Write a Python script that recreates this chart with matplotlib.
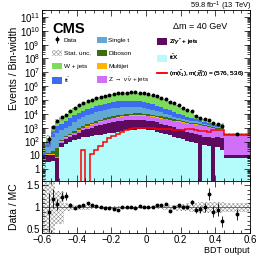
##### BDT output distribution, stacked backgrounds with data/MC ratio
import numpy as np
import matplotlib
matplotlib.use('Agg')
import matplotlib.pyplot as plt
from matplotlib.patches import Patch
from matplotlib.lines import Line2D
from matplotlib.ticker import FixedLocator, LogLocator, MultipleLocator, FuncFormatter, NullFormatter

##### binning: 0.025 wide bins from -0.6 to 0.45, then one wide bin to 0.6
edges = np.append(np.linspace(-0.6, 0.45, 43), 0.6)

##### yields in events / bin width
ttx = [3.2, 3.2, 4, 0, 40, 71, 100, 126, 158, 200, 224, 251, 282, 316, 355, 398, 447, 501, 562, 631,
       676, 724, 759, 759, 708, 631, 525, 447, 355, 282, 224, 178, 141, 112, 100, 79, 0, 56, 50, 0, 40, 25, 6.9]
zll = [0.8, 6.8, 6, 6.3, 40, 87, 124, 190, 289, 431, 570, 749, 977, 1270, 1550, 1840, 2070, 2320, 2600, 2680,
       2870, 2990, 2960, 2790, 2450, 2190, 1870, 1550, 1310, 1040, 823, 654, 520, 413, 317, 276, 282, 168, 150, 178, 160, 153, 3.8]
znn = [0, 1.2, 1.2, 0.8, 10, 20, 39, 82, 156, 260, 408, 585, 830, 1110, 1410, 1740, 2170, 2550, 2860, 3300,
       3700, 3870, 3870, 3700, 3600, 3210, 2850, 2580, 2320, 2070, 1840, 1680, 1580, 1470, 1360, 1310, 1230, 1040, 847, 713, 559, 546, 284]
qcd = [0, 1.4, 1.4, 0.8, 11, 22, 32, 49, 73, 109, 147, 193, 255, 328, 404, 486, 571, 656, 735, 806,
       884, 925, 925, 884, 825, 735, 640, 558, 486, 414, 352, 306, 273, 244, 217, 202, 184, 154, 128, 109, 92, 89, 14]
vv = [0.5, 3.2, 7.4, 24, 26, 51, 85, 142, 215, 318, 429, 566, 676, 870, 1070, 1290, 1510, 1740, 1950, 2140,
      2340, 2450, 2450, 2340, 2190, 1950, 1700, 1330, 1030, 875, 745, 570, 439, 391, 349, 276, 252, 209, 174, 148, 126, 99, 15]
singlet = [1.8, 24, 180, 366, 505, 640, 1030, 1920, 3090, 4310, 6170, 7660, 9570, 11200, 13000, 15600, 18400, 20400, 21500, 22100,
           21200, 20700, 18500, 16400, 14200, 11200, 8260, 6130, 4510, 3270, 2330, 1620, 1220, 918, 818, 680, 562, 373, 273, 232, 171, 160, 23]
ttbar = [11.5, 72, 362, 861, 1360, 1930, 3600, 5430, 7240, 10200, 13400, 18200, 22900, 27500, 32300, 38900, 45700, 51200, 54900, 57500,
         57500, 55500, 49900, 43900, 36300, 30200, 24000, 17600, 14000, 9840, 6870, 4990, 3770, 2760, 1850, 1160, 799, 635, 467, 358, 297, 246, 25]
wjets = [32, 66, 438, 1690, 3130, 4260, 10100, 17200, 27700, 37900, 51100, 71800, 90400, 116000, 145000, 169000, 205000, 237000, 238000, 258000,
         266000, 276000, 252000, 245000, 222000, 179000, 151000, 111000, 88200, 65400, 44400, 32700, 19000, 13600, 8790, 3960, 2310, 1350, 729, 553, 550, 587, 26]
data = [0, 158, 1200, 3160, 6360, 8920, 15900, 25100, 40100, 56400, 79000, 105000, 131000, 158500, 191000, 224500, 264000, 297000, 323600, 346700,
        354800, 355800, 341100, 316200, 284700, 229100, 200100, 148300, 120100, 76500, 58100, 44800, 27200, 20150, 15460, 7550, 5400, 3980, 3660, 2060, 1900, 1300, 334]
signal = [0, 0, 0, 0, 0, 0, 0, 0, 0, 25, 0, 12, 25, 50, 100, 175, 250, 350, 500, 630,
          760, 890, 950, 950, 930, 890, 850, 830, 800, 760, 740, 720, 720, 760, 780, 630, 620, 600, 525, 690, 690, 690, 300]
# relative MC statistical uncertainty per bin
mc_unc = [1.0, 0.8, 0.7, 0.38, 0.38, 0.09, 0.07, 0.06, 0.055, 0.05, 0.05, 0.045, 0.045, 0.04, 0.04, 0.04, 0.04, 0.04, 0.04, 0.04,
          0.04, 0.04, 0.04, 0.04, 0.04, 0.04, 0.045, 0.045, 0.05, 0.05, 0.06, 0.07, 0.08, 0.09, 0.1, 0.11, 0.12, 0.12, 0.13, 0.13, 0.13, 0.13, 0.1]

##### stack order bottom -> top
layers = [(ttx, '#b4fcfc', r'$\mathrm{t\bar{t}X}$'),
          (zll, '#5e0a5e', r'Z/$\gamma^{*}$ + jets'),
          (znn, '#d070f8', r'Z $\rightarrow$ $\nu\bar{\nu}$ + jets'),
          (qcd, '#ffb400', 'Multijet'),
          (vv, '#3d6e0e', 'Diboson'),
          (singlet, '#62a8d6', 'Single t'),
          (ttbar, '#3c6cf0', r'$\mathrm{t\bar{t}}$'),
          (wjets, '#7cdc5c', 'W + jets')]

plt.rcParams['font.family'] = ['Liberation Sans', 'DejaVu Sans']
plt.rcParams['mathtext.fontset'] = 'custom'
plt.rcParams['mathtext.rm'] = 'Liberation Sans'
plt.rcParams['mathtext.it'] = 'Liberation Sans:italic'
plt.rcParams['mathtext.bf'] = 'Liberation Sans:bold'
plt.rcParams['hatch.linewidth'] = 0.35
plt.rcParams['axes.linewidth'] = 0.6

unc_hatch = 'xxxxxxxx'
unc_col = '#8a8a8a'

width = np.diff(edges)
centers = 0.5 * (edges[:-1] + edges[1:])
data = np.array(data, dtype=float)
mc_unc = np.array(mc_unc)

fig = plt.figure(figsize=(2.66, 2.58), dpi=100)
ax = fig.add_axes([42 / 266, 1 - 181 / 258, 208 / 266, 171 / 258])
rax = fig.add_axes([42 / 266, 1 - 233 / 258, 208 / 266, 52 / 258], sharex=ax)
ax.set_yscale('log')

##### stacked backgrounds
cum = np.zeros(len(centers))
handles = {}
for vals, col, lab in layers:
    top = cum + np.array(vals, dtype=float)
    ax.stairs(top, edges, baseline=cum, fill=True, color=col, lw=0)
    handles[lab] = Patch(facecolor=col, edgecolor='none')
    cum = top
mc = cum

# MC stat. unc. band
ax.stairs(mc * (1 + mc_unc), edges, baseline=mc * (1 - mc_unc), fill=True,
          facecolor='none', edgecolor=unc_col, hatch=unc_hatch, lw=0)

# signal
ax.stairs(signal, edges, baseline=None, color='red', lw=1.1)

# data
m = data > 0
derr = np.sqrt(data * width) / width
dat = ax.errorbar(centers[m], data[m], yerr=derr[m], fmt='o', ms=1.8, color='k',
                  lw=0.6, capsize=0)

ax.set_xlim(-0.6, 0.6)
ax.set_ylim(10 ** -0.85, 10 ** 11.5)

ax.yaxis.set_major_locator(FixedLocator([10.0 ** k for k in range(12)]))
ax.yaxis.set_minor_locator(LogLocator(base=10, subs=np.arange(2, 10), numticks=200))
ax.yaxis.set_minor_formatter(NullFormatter())


def ylog_fmt(v, p):
    k = int(round(np.log10(v)))
    if k == 0:
        return '1'
    if k == 1:
        return '10'
    return r'$10^{%d}$' % k


ax.yaxis.set_major_formatter(FuncFormatter(ylog_fmt))
ax.tick_params(which='both', direction='in', top=True, right=True, labelbottom=False,
               labelsize=7, width=0.5, pad=1.5)
ax.tick_params(which='major', length=4)
ax.tick_params(which='minor', length=2)
ax.set_ylabel('Events / Bin-width', fontsize=7.5, loc='top')
ax.yaxis.set_label_coords(-0.11, 0.9)

##### text
ax.text(0.048, 0.93, 'CMS', transform=ax.transAxes, fontsize=10.5, fontweight='bold',
        va='top', ha='left')
ax.text(0.89, 0.93, 'Δm = 40 GeV', transform=ax.transAxes, fontsize=6.5, va='top', ha='right')
fig.text(252 / 266, 1 - 8.5 / 258, r'59.8 fb$^{-1}$ (13 TeV)', fontsize=5.4,
         va='baseline', ha='right')

##### legend, three columns
legkw = dict(fontsize=4.6, frameon=False, handlelength=1.56, handleheight=1.25,
             labelspacing=0.97, handletextpad=0.25, borderpad=0, borderaxespad=0, loc='upper left')
unc_patch = Patch(facecolor='white', edgecolor=unc_col, hatch=unc_hatch, lw=0)
sig_line = Line2D([], [], color='red', lw=1.1)
col1 = [(dat, 'Data'), (unc_patch, 'Stat. unc.'),
        (handles['W + jets'], 'W + jets'), (handles[r'$\mathrm{t\bar{t}}$'], r'$\mathrm{t\bar{t}}$')]
col2 = [(handles['Single t'], 'Single t'), (handles['Diboson'], 'Diboson'),
        (handles['Multijet'], 'Multijet'),
        (handles[r'Z $\rightarrow$ $\nu\bar{\nu}$ + jets'], r'Z $\rightarrow$ $\nu\bar{\nu}$ + jets')]
col3 = [(handles[r'Z/$\gamma^{*}$ + jets'], r'Z/$\gamma^{*}$ + jets'),
        (handles[r'$\mathrm{t\bar{t}X}$'], r'$\mathrm{t\bar{t}X}$'),
        (sig_line, r'(m($\tilde{\mathrm{t}}_1$), m($\tilde{\chi}^0_1$)) = (576, 536)')]
for xpos, col in [(0.048, col1), (0.264, col2), (0.553, col3)]:
    leg = ax.legend([h for h, l in col], [l for h, l in col],
                    bbox_to_anchor=(xpos, 0.844), **legkw)
    ax.add_artist(leg)

##### ratio panel
ratio = data / mc
rerr = derr / mc
rax.stairs(1 + mc_unc, edges, baseline=1 - mc_unc, fill=True,
           facecolor='none', edgecolor=unc_col, hatch=unc_hatch, lw=0)
rax.axhline(1.0, color='#555555', lw=0.6)
rax.errorbar(centers[m], ratio[m], yerr=rerr[m], fmt='o', ms=1.8, color='k', lw=0.6, capsize=0)
rax.set_ylim(0.42, 1.6)
rax.set_yticks([0.5, 1.0, 1.5])
rax.set_yticklabels(['0.5', '1', '1.5'])
rax.yaxis.set_minor_locator(MultipleLocator(0.1))
rax.xaxis.set_major_locator(FixedLocator([-0.6, -0.4, -0.2, 0.0, 0.2, 0.4, 0.6]))
rax.xaxis.set_minor_locator(MultipleLocator(0.05))
rax.xaxis.set_major_formatter(FuncFormatter(
    lambda v, p: ('%g' % round(v, 2)).replace('-', '\u2212') if abs(v) > 1e-9 else '0'))
rax.tick_params(which='both', direction='in', top=True, right=True, labelsize=7,
                width=0.5, pad=1.5)
rax.tick_params(which='major', length=4)
rax.tick_params(which='minor', length=2)
rax.set_ylabel('Data / MC', fontsize=7.5)
rax.yaxis.set_label_coords(-0.11, 0.5)
rax.set_xlabel('BDT output', fontsize=6.5, loc='right', labelpad=0.5)

fig.savefig('out.png', dpi=100)
